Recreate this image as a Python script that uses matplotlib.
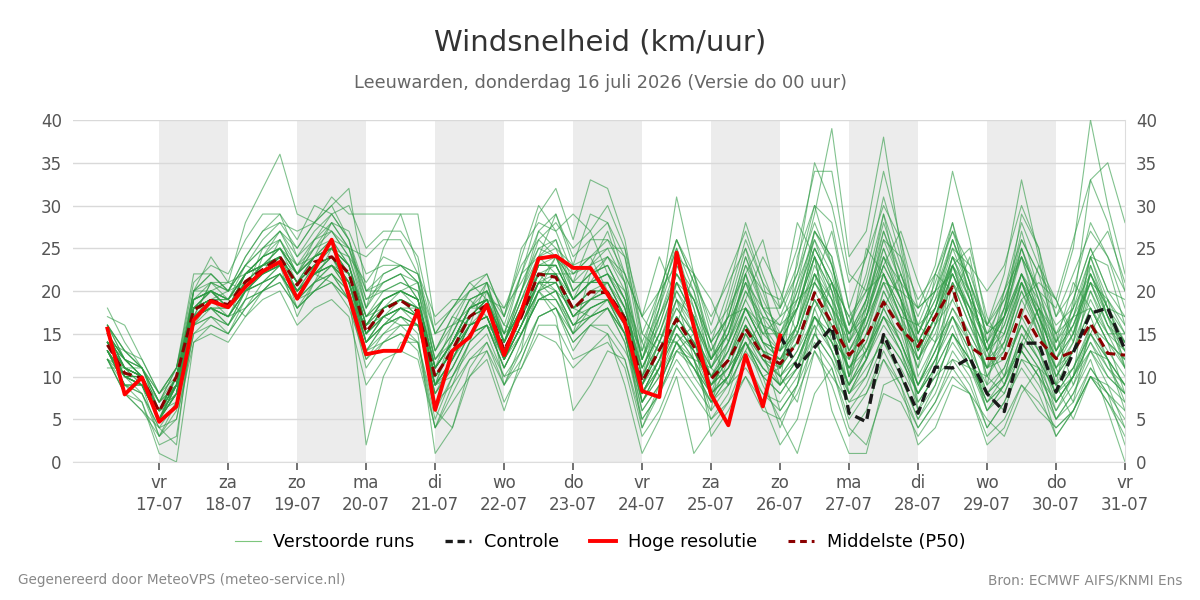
import matplotlib
matplotlib.use("Agg")
import matplotlib.pyplot as plt
from matplotlib.lines import Line2D
import numpy as np

# time axis: hours relative to vr 17-07 00:00, 6-hourly steps
hours = np.arange(-18, 337, 6)
day_hours = np.arange(0, 337, 24)
day_names = ['vr', 'za', 'zo', 'ma', 'di', 'wo', 'do', 'vr', 'za', 'zo', 'ma', 'di', 'wo', 'do', 'vr']
day_dates = ['17-07', '18-07', '19-07', '20-07', '21-07', '22-07', '23-07', '24-07',
             '25-07', '26-07', '27-07', '28-07', '29-07', '30-07', '31-07']

# high resolution run (ends 26-07 00:00)
hires = [15.6, 7.9, 9.9, 4.7, 6.5, 16.6, 18.8, 18.1, 20.5, 22.3, 23.4, 19.1, 22.5, 26.0, 19.4,
         12.6, 13.0, 13.0, 17.7, 6.1, 13.0, 14.6, 18.4, 12.5, 17.6, 23.8, 24.1, 22.7, 22.7, 19.6,
         16.3, 8.3, 7.6, 24.5, 15.8, 7.9, 4.3, 12.5, 6.5, 14.8]

# control run, visible from 26-07 00:00 onwards
control = [14.8, 11.1, 13.4, 15.8, 5.7, 4.7, 14.9, 10.3, 5.7, 11.1, 11.0, 12.2, 8.0, 5.9,
           13.9, 13.9, 8.2, 12.8, 17.4, 18.0, 13.1]

# ensemble median
p50 = [13.7, 10.4, 9.8, 5.9, 10.0, 17.8, 18.9, 18.4, 21.1, 22.5, 24.0, 20.7, 23.4, 24.0, 22.1,
       15.2, 17.8, 18.9, 17.6, 10.0, 13.1, 17.0, 18.4, 13.1, 17.0, 22.0, 21.6, 17.9, 19.9, 19.8,
       16.8, 9.4, 13.1, 16.7, 13.5, 9.7, 11.9, 15.6, 12.5, 11.5, 13.9, 19.8, 16.2, 12.5, 14.6,
       18.7, 15.6, 13.5, 17.0, 20.5, 13.5, 12.1, 12.1, 17.8, 14.3, 12.1, 12.9, 16.2, 12.7, 12.5]

# perturbed members
members = [
    [15, 12, 11, 7, 9, 19, 21, 19, 23, 25, 26, 22, 25, 27, 24, 17, 20, 21, 20, 12, 15, 19, 20, 14, 19, 24, 26, 21, 23, 25, 21, 12, 16, 22, 18, 12, 15, 21, 15, 15, 18, 25, 21, 13, 17, 23, 19, 12, 16, 22, 17, 10, 13, 21, 16, 9, 13, 20, 15, 11],
    [13, 9, 8, 4, 5, 15, 16, 15, 19, 20, 22, 18, 20, 22, 19, 11, 14, 15, 14, 6, 10, 13, 15, 10, 13, 17, 18, 14, 16, 18, 14, 5, 8, 12, 9, 6, 9, 11, 8, 7, 10, 15, 12, 6, 9, 14, 10, 5, 8, 13, 10, 4, 7, 12, 9, 5, 7, 11, 8, 6],
    [16, 13, 11, 7, 9, 20, 22, 20, 24, 27, 29, 24, 27, 29, 26, 18, 22, 23, 22, 13, 17, 20, 21, 15, 22, 27, 29, 24, 26, 28, 24, 13, 18, 26, 21, 14, 17, 24, 18, 18, 22, 30, 28, 18, 24, 34, 26, 15, 20, 28, 21, 12, 18, 27, 20, 13, 18, 33, 28, 20],
    [12, 8, 7, 2, 3, 16, 17, 16, 20, 21, 23, 19, 22, 23, 21, 13, 16, 18, 17, 8, 12, 16, 17, 12, 16, 21, 20, 16, 18, 19, 16, 7, 11, 15, 12, 8, 11, 14, 10, 4, 9, 18, 21, 14, 19, 29, 20, 10, 14, 17, 12, 6, 8, 13, 10, 3, 6, 10, 8, 5],
    [14, 11, 10, 5, 9, 20, 24, 21, 28, 32, 36, 29, 28, 30, 26, 19, 21, 22, 19, 9, 14, 18, 19, 15, 20, 25, 26, 20, 22, 23, 19, 8, 12, 19, 16, 9, 13, 18, 14, 13, 16, 23, 19, 8, 12, 20, 16, 12, 17, 24, 19, 14, 17, 22, 18, 11, 15, 22, 17, 13],
    [13, 10, 9, 5, 8, 18, 20, 18, 22, 24, 27, 25, 28, 31, 29, 29, 29, 29, 29, 16, 18, 20, 21, 14, 20, 26, 28, 25, 27, 30, 25, 14, 19, 25, 20, 11, 15, 22, 16, 13, 19, 27, 24, 16, 22, 31, 24, 14, 18, 24, 19, 13, 17, 25, 19, 10, 14, 22, 17, 14],
    [12, 10, 9, 3, 7, 17, 18, 17, 20, 22, 24, 20, 23, 24, 20, 2, 10, 14, 14, 5, 10, 14, 16, 11, 15, 19, 20, 15, 18, 19, 15, 6, 9, 14, 11, 7, 10, 15, 12, 9, 12, 17, 13, 7, 10, 15, 12, 8, 12, 16, 11, 7, 9, 13, 10, 6, 9, 13, 9, 7],
    [14, 11, 10, 6, 9, 18, 19, 18, 21, 22, 24, 21, 23, 25, 22, 14, 16, 17, 15, 1, 4, 11, 14, 9, 14, 20, 22, 17, 19, 21, 17, 8, 12, 17, 14, 9, 12, 16, 12, 11, 15, 22, 18, 10, 15, 21, 16, 9, 13, 18, 14, 8, 10, 17, 13, 7, 10, 15, 11, 9],
    [13, 9, 7, 1, 0, 14, 16, 15, 18, 20, 21, 18, 20, 22, 19, 12, 15, 16, 16, 9, 11, 15, 16, 11, 15, 19, 20, 16, 17, 18, 15, 7, 10, 15, 13, 9, 12, 16, 13, 12, 14, 19, 16, 11, 13, 17, 15, 9, 13, 18, 15, 11, 12, 16, 13, 9, 11, 16, 13, 10],
    [15, 12, 10, 6, 10, 19, 20, 18, 22, 24, 25, 22, 24, 25, 23, 16, 19, 20, 19, 11, 14, 18, 20, 16, 22, 29, 32, 26, 33, 32, 26, 15, 20, 26, 22, 12, 16, 21, 16, 15, 19, 26, 22, 14, 18, 27, 21, 13, 17, 22, 17, 11, 15, 22, 17, 12, 15, 21, 16, 12],
    [14, 10, 9, 6, 9, 17, 18, 18, 20, 22, 23, 20, 22, 24, 21, 15, 18, 19, 18, 10, 13, 16, 17, 12, 16, 20, 18, 14, 16, 15, 9, 1, 5, 10, 1, 4, 7, 10, 6, 5, 8, 13, 9, 3, 6, 12, 8, 4, 7, 11, 8, 3, 5, 9, 6, 4, 6, 10, 7, 3],
    [16, 12, 10, 7, 11, 19, 20, 19, 22, 23, 25, 22, 24, 26, 23, 16, 19, 20, 19, 11, 14, 18, 19, 13, 18, 23, 23, 19, 21, 22, 19, 10, 18, 31, 22, 15, 18, 25, 18, 14, 18, 24, 20, 12, 16, 22, 18, 14, 18, 23, 17, 13, 15, 21, 17, 12, 15, 20, 16, 13],
    [13, 9, 9, 5, 9, 17, 18, 17, 20, 21, 23, 20, 22, 23, 21, 14, 17, 18, 17, 9, 12, 16, 17, 12, 16, 21, 21, 17, 19, 19, 16, 8, 12, 16, 13, 9, 11, 14, 9, 5, 1, 8, 11, 4, 2, 8, 7, 3, 6, 10, 8, 2, 4, 9, 7, 4, 6, 11, 8, 2],
    [15, 11, 10, 6, 10, 19, 20, 19, 22, 24, 25, 21, 24, 25, 23, 17, 19, 20, 19, 11, 14, 18, 19, 14, 18, 23, 24, 19, 21, 22, 18, 11, 15, 20, 17, 12, 16, 23, 20, 19, 25, 34, 34, 22, 20, 28, 22, 16, 21, 27, 23, 14, 20, 28, 23, 17, 22, 27, 24, 18],
    [14, 11, 10, 6, 10, 18, 19, 18, 21, 23, 24, 21, 23, 24, 21, 15, 18, 19, 18, 10, 13, 17, 18, 13, 17, 22, 22, 18, 20, 21, 17, 10, 14, 19, 15, 11, 14, 20, 17, 16, 21, 29, 39, 24, 27, 38, 25, 15, 20, 26, 20, 13, 17, 24, 18, 13, 16, 22, 18, 15],
    [13, 10, 9, 5, 9, 17, 18, 18, 21, 22, 23, 20, 22, 24, 21, 15, 17, 18, 17, 9, 12, 16, 17, 12, 16, 20, 21, 17, 19, 20, 16, 9, 13, 17, 14, 10, 13, 18, 14, 13, 15, 21, 18, 14, 17, 24, 21, 18, 23, 34, 26, 16, 22, 33, 24, 13, 17, 24, 18, 14],
    [14, 10, 10, 6, 10, 18, 20, 18, 21, 23, 24, 21, 23, 24, 22, 15, 18, 19, 18, 10, 13, 17, 18, 13, 17, 22, 22, 18, 20, 20, 17, 9, 13, 18, 15, 10, 12, 17, 13, 12, 15, 21, 17, 13, 16, 21, 17, 13, 17, 22, 18, 14, 18, 24, 20, 18, 25, 40, 30, 22],
    [15, 12, 10, 6, 10, 18, 19, 19, 22, 24, 25, 22, 25, 26, 23, 16, 19, 20, 19, 11, 14, 17, 19, 14, 18, 23, 23, 19, 21, 22, 18, 11, 15, 21, 17, 12, 15, 22, 17, 14, 18, 25, 21, 15, 19, 26, 21, 14, 18, 25, 20, 13, 18, 26, 22, 19, 26, 33, 35, 28],
    [13, 9, 9, 5, 8, 17, 18, 17, 20, 21, 22, 19, 21, 22, 20, 14, 16, 18, 16, 9, 12, 15, 16, 12, 15, 19, 19, 15, 17, 18, 15, 7, 11, 15, 12, 8, 10, 14, 11, 9, 12, 17, 14, 9, 12, 16, 13, 8, 11, 15, 11, 6, 9, 14, 11, 5, 8, 12, 6, 0],
    [14, 11, 9, 5, 8, 17, 19, 18, 21, 23, 24, 21, 23, 24, 22, 15, 17, 19, 18, 10, 13, 17, 18, 13, 17, 21, 22, 18, 19, 20, 16, 8, 12, 16, 13, 9, 11, 16, 12, 10, 12, 16, 6, 1, 1, 9, 10, 5, 9, 15, 12, 7, 9, 15, 12, 8, 10, 14, 11, 8],
    [16, 13, 11, 8, 11, 20, 21, 20, 23, 25, 27, 23, 26, 28, 25, 18, 21, 22, 21, 13, 16, 20, 22, 17, 24, 30, 27, 22, 24, 26, 22, 12, 17, 23, 19, 13, 17, 24, 19, 15, 20, 27, 23, 16, 21, 29, 23, 15, 19, 26, 21, 15, 19, 25, 20, 14, 18, 24, 19, 16],
    [12, 9, 8, 4, 7, 16, 17, 16, 19, 20, 22, 19, 21, 22, 20, 13, 16, 17, 16, 8, 11, 15, 16, 11, 15, 19, 19, 16, 17, 18, 14, 6, 9, 14, 11, 7, 9, 13, 10, 8, 11, 15, 12, 8, 11, 14, 11, 7, 10, 14, 11, 8, 10, 13, 10, 7, 10, 13, 10, 8],
    [14, 10, 10, 6, 9, 18, 19, 18, 22, 23, 24, 21, 23, 24, 22, 15, 18, 19, 18, 10, 13, 17, 18, 13, 17, 22, 22, 18, 20, 20, 17, 9, 13, 17, 14, 10, 14, 19, 15, 13, 16, 22, 17, 10, 13, 18, 14, 9, 14, 19, 15, 11, 14, 20, 16, 10, 13, 17, 12, 9],
    [13, 10, 10, 6, 10, 19, 20, 19, 21, 22, 23, 20, 22, 23, 21, 14, 17, 18, 18, 11, 14, 18, 19, 14, 18, 23, 23, 19, 21, 21, 18, 10, 14, 18, 15, 11, 16, 21, 18, 16, 18, 22, 19, 15, 18, 23, 19, 15, 19, 23, 19, 16, 19, 24, 20, 16, 18, 22, 18, 17],
    [15, 11, 10, 5, 9, 18, 19, 18, 21, 22, 24, 21, 23, 25, 22, 15, 18, 19, 17, 9, 12, 16, 18, 12, 16, 20, 21, 17, 19, 20, 16, 4, 9, 14, 10, 7, 10, 14, 10, 8, 11, 18, 13, 9, 13, 19, 14, 8, 12, 17, 13, 6, 9, 15, 12, 6, 10, 16, 12, 7],
    [16, 12, 11, 7, 10, 20, 22, 20, 24, 27, 28, 25, 28, 30, 32, 20, 22, 23, 21, 12, 15, 19, 20, 15, 20, 24, 25, 20, 22, 24, 20, 11, 16, 22, 19, 13, 17, 23, 18, 14, 18, 24, 20, 15, 19, 25, 20, 13, 17, 23, 18, 12, 16, 22, 17, 12, 16, 21, 17, 14],
    [12, 8, 6, 3, 5, 14, 15, 14, 17, 19, 20, 16, 18, 19, 17, 9, 12, 13, 12, 4, 8, 12, 13, 7, 11, 15, 14, 11, 13, 14, 11, 3, 6, 11, 8, 5, 7, 12, 8, 6, 9, 14, 11, 5, 8, 13, 9, 4, 7, 12, 9, 4, 7, 11, 8, 3, 6, 10, 7, 4],
    [14, 11, 10, 6, 9, 18, 19, 18, 22, 23, 25, 22, 24, 25, 23, 17, 19, 20, 19, 11, 14, 18, 19, 14, 18, 22, 22, 19, 21, 21, 17, 9, 14, 19, 17, 12, 15, 20, 16, 11, 14, 19, 15, 11, 15, 22, 18, 14, 18, 26, 21, 15, 17, 21, 16, 11, 14, 19, 15, 13],
    [13, 10, 9, 5, 8, 17, 18, 17, 21, 22, 23, 20, 22, 23, 20, 14, 16, 17, 16, 9, 12, 16, 17, 12, 16, 21, 21, 17, 18, 19, 15, 7, 10, 14, 11, 8, 10, 15, 12, 10, 13, 19, 15, 11, 14, 20, 16, 11, 16, 21, 16, 12, 14, 20, 15, 10, 13, 18, 14, 11],
    [15, 11, 10, 5, 9, 19, 20, 18, 21, 23, 24, 21, 24, 25, 22, 16, 18, 19, 18, 10, 13, 17, 19, 13, 18, 23, 23, 19, 21, 22, 18, 10, 15, 21, 17, 11, 14, 18, 14, 12, 16, 22, 18, 12, 17, 24, 19, 13, 17, 23, 17, 13, 16, 22, 17, 13, 16, 21, 16, 14],
    [14, 10, 9, 5, 9, 18, 19, 18, 21, 22, 23, 20, 22, 23, 21, 14, 17, 18, 17, 6, 4, 10, 12, 6, 12, 17, 18, 15, 17, 18, 15, 8, 11, 16, 13, 9, 11, 16, 13, 10, 13, 17, 14, 9, 12, 17, 14, 9, 12, 17, 14, 8, 11, 16, 13, 8, 11, 15, 12, 9],
    [13, 10, 10, 6, 9, 18, 19, 17, 20, 22, 23, 20, 22, 24, 21, 15, 17, 18, 17, 10, 13, 16, 17, 12, 16, 20, 17, 6, 9, 13, 12, 4, 8, 13, 11, 8, 10, 15, 11, 9, 12, 17, 14, 9, 13, 18, 14, 9, 13, 17, 13, 9, 11, 16, 12, 8, 11, 15, 12, 9],
    [15, 12, 10, 6, 10, 19, 20, 18, 22, 24, 25, 22, 24, 25, 22, 16, 18, 20, 19, 11, 14, 17, 19, 14, 19, 24, 24, 20, 22, 23, 19, 12, 17, 22, 19, 14, 20, 28, 22, 17, 22, 28, 23, 16, 20, 27, 22, 17, 22, 27, 21, 16, 20, 26, 22, 15, 19, 25, 20, 19],
    [13, 9, 9, 5, 8, 17, 18, 17, 20, 21, 22, 19, 21, 23, 20, 13, 15, 17, 16, 8, 11, 15, 16, 11, 15, 19, 20, 16, 18, 19, 15, 8, 11, 16, 13, 8, 10, 14, 11, 9, 11, 16, 13, 8, 10, 15, 12, 8, 11, 15, 12, 7, 10, 14, 11, 7, 10, 14, 10, 8],
    [15, 11, 10, 6, 10, 18, 20, 19, 22, 23, 24, 21, 24, 25, 23, 16, 19, 20, 18, 11, 14, 18, 19, 14, 18, 22, 23, 19, 21, 21, 17, 9, 14, 20, 16, 10, 13, 18, 14, 12, 16, 24, 19, 13, 17, 25, 19, 12, 16, 24, 20, 13, 17, 25, 19, 12, 17, 23, 18, 13],
    [14, 10, 9, 6, 9, 17, 19, 18, 21, 22, 24, 20, 23, 24, 21, 15, 17, 18, 17, 10, 13, 16, 17, 13, 17, 21, 21, 18, 19, 20, 16, 9, 12, 17, 14, 10, 12, 17, 13, 11, 14, 20, 16, 11, 14, 19, 16, 12, 15, 21, 16, 11, 13, 19, 15, 11, 13, 18, 14, 12],
    [17, 16, 12, 8, 11, 21, 23, 22, 26, 29, 29, 26, 30, 29, 30, 25, 27, 27, 24, 15, 18, 21, 22, 17, 25, 28, 27, 29, 27, 22, 20, 12, 19, 25, 18, 8, 14, 22, 26, 18, 28, 24, 15, 9, 17, 23, 27, 21, 16, 19, 24, 14, 10, 17, 23, 19, 15, 24, 27, 21],
    [11, 11, 9, 5, 8, 16, 19, 20, 23, 22, 24, 18, 21, 25, 24, 21, 24, 23, 21, 7, 9, 14, 20, 16, 15, 20, 24, 19, 23, 27, 21, 7, 11, 21, 19, 14, 9, 13, 17, 10, 7, 15, 21, 17, 13, 17, 13, 8, 11, 21, 18, 10, 8, 13, 18, 15, 9, 15, 19, 11],
    [16, 13, 12, 8, 11, 18, 20, 21, 20, 25, 27, 24, 26, 27, 24, 18, 25, 29, 23, 11, 16, 17, 19, 9, 13, 24, 29, 23, 29, 28, 22, 17, 24, 19, 12, 6, 18, 22, 14, 9, 24, 30, 23, 14, 25, 22, 17, 11, 22, 28, 19, 9, 17, 29, 25, 14, 21, 18, 14, 8],
    [18, 14, 11, 6, 7, 17, 21, 20, 21, 22, 26, 23, 24, 28, 25, 20, 21, 22, 19, 12, 14, 18, 21, 18, 21, 25, 24, 21, 26, 26, 24, 15, 13, 16, 22, 19, 14, 19, 24, 20, 15, 21, 27, 18, 12, 18, 22, 16, 14, 23, 25, 17, 13, 19, 21, 19, 14, 24, 23, 16],
    [12, 8, 6, 4, 2, 18, 19, 19, 17, 20, 22, 20, 22, 21, 19, 16, 17, 16, 14, 4, 7, 10, 13, 9, 12, 17, 18, 13, 16, 16, 13, 9, 17, 21, 17, 7, 12, 18, 16, 11, 16, 27, 24, 10, 19, 24, 19, 6, 11, 23, 20, 13, 9, 14, 18, 7, 10, 23, 17, 11],
    [15, 10, 9, 5, 10, 17, 18, 16, 19, 24, 26, 22, 26, 29, 26, 20, 20, 21, 20, 13, 17, 16, 21, 14, 20, 27, 25, 23, 24, 25, 25, 17, 14, 14, 16, 12, 19, 26, 21, 13, 21, 26, 20, 10, 18, 26, 24, 19, 22, 20, 14, 11, 20, 24, 17, 9, 19, 25, 20, 17],
    [14, 12, 10, 6, 9, 18, 18, 17, 18, 20, 21, 18, 20, 21, 19, 13, 14, 16, 16, 9, 10, 14, 16, 14, 19, 22, 20, 18, 17, 19, 17, 11, 15, 14, 12, 5, 8, 14, 10, 11, 18, 24, 14, 12, 16, 22, 17, 7, 10, 12, 11, 10, 14, 21, 15, 11, 7, 16, 14, 12],
    [14, 13, 11, 7, 11, 22, 22, 20, 23, 26, 28, 27, 28, 27, 25, 24, 26, 26, 22, 15, 18, 21, 19, 18, 23, 26, 24, 21, 21, 24, 21, 12, 18, 24, 22, 16, 22, 27, 21, 18, 23, 35, 30, 21, 24, 30, 26, 18, 20, 25, 23, 20, 23, 30, 25, 17, 20, 28, 24, 20],
    [13, 10, 8, 3, 6, 15, 17, 15, 18, 21, 22, 19, 20, 21, 18, 12, 14, 15, 13, 4, 9, 12, 14, 10, 11, 16, 16, 12, 13, 15, 12, 5, 8, 13, 12, 11, 9, 16, 13, 6, 9, 17, 15, 8, 12, 17, 13, 6, 9, 15, 12, 8, 6, 12, 11, 5, 8, 13, 12, 6],
    [14, 12, 11, 8, 10, 16, 18, 16, 20, 22, 24, 22, 24, 26, 25, 19, 20, 20, 21, 15, 16, 18, 18, 15, 17, 21, 24, 22, 24, 20, 17, 13, 20, 26, 21, 17, 21, 25, 20, 14, 20, 25, 21, 17, 20, 22, 17, 16, 18, 24, 22, 16, 15, 21, 18, 14, 17, 21, 19, 15],
    [12, 11, 10, 6, 8, 17, 21, 21, 22, 23, 23, 17, 21, 23, 22, 17, 18, 19, 17, 9, 15, 19, 17, 12, 17, 21, 19, 15, 22, 23, 19, 14, 10, 13, 15, 3, 6, 10, 7, 2, 5, 13, 10, 7, 8, 12, 9, 2, 4, 9, 8, 5, 3, 8, 11, 9, 5, 10, 9, 4],
    [15, 11, 11, 6, 8, 20, 20, 19, 22, 23, 25, 23, 25, 28, 27, 22, 23, 23, 22, 17, 19, 19, 20, 17, 22, 24, 22, 22, 23, 24, 22, 17, 20, 23, 20, 14, 17, 18, 15, 17, 19, 21, 18, 15, 17, 21, 20, 18, 20, 22, 18, 15, 17, 22, 19, 15, 17, 18, 15, 15],
]

fig = plt.figure(figsize=(12, 6), dpi=100)
ax = fig.add_axes([0.0608, 0.23, 0.8767, 0.57])

# shaded alternate days
for d in range(0, 14, 2):
    ax.axvspan(day_hours[d], day_hours[d + 1], color='#ececec', zorder=0, lw=0)

for m in members:
    ax.plot(hours, m, color='#2e9a44', lw=0.8, alpha=0.6, zorder=2)
ax.plot(hours, p50, color='#8b0000', lw=2.2, dashes=(3.2, 1.8), zorder=3)
ax.plot(hours[39:], control, color='#1a1a1a', lw=2.4, dashes=(3, 1.6), zorder=4)
ax.plot(hours[:40], hires, color='#ff0000', lw=2.8, zorder=5)

ax.set_xlim(-30, 336)
ax.set_ylim(0, 40)
ax.set_yticks(np.arange(0, 41, 5))
ax.grid(axis='y', color='#d9d9d9', lw=1)
ax.set_axisbelow(True)
ax.set_xticks(day_hours)
ax.set_xticklabels([f'{n}\n{d}' for n, d in zip(day_names, day_dates)], linespacing=1.25)
ax.tick_params(axis='x', length=6, width=1.3, color='#666666', labelsize=12,
               labelcolor='#555555', pad=3)
ax.tick_params(axis='y', length=0, labelsize=12, labelcolor='#555555', pad=8,
               labelright=True, right=False)
for s in ['top', 'left']:
    ax.spines[s].set_visible(False)
ax.spines['right'].set_color('#dddddd')
ax.spines['bottom'].set_color('#dddddd')

fig.text(0.5, 0.93, 'Windsnelheid (km/uur)', ha='center', va='center', fontsize=21, color='#333333')
fig.text(0.5, 0.862, 'Leeuwarden, donderdag 16 juli 2026 (Versie do 00 uur)', ha='center',
         va='center', fontsize=12.8, color='#666666')

handles = [Line2D([], [], color='#5cb85c', lw=0.8, alpha=0.8),
           Line2D([], [], color='#1a1a1a', lw=2.4, dashes=(2.2, 1.4)),
           Line2D([], [], color='#ff0000', lw=2.8),
           Line2D([], [], color='#8b0000', lw=2.2, dashes=(2.2, 1.6))]
labels = ['Verstoorde runs', 'Controle', 'Hoge resolutie', 'Middelste (P50)']
fig.legend(handles, labels, loc='center', bbox_to_anchor=(0.5, 0.097), ncol=4, frameon=False,
           fontsize=12.8, handlelength=1.45, columnspacing=1.75, handletextpad=0.7)

fig.text(0.015, 0.033, 'Gegenereerd door MeteoVPS (meteo-service.nl)', ha='left', va='center',
         fontsize=9.8, color='#888888')
fig.text(0.985, 0.033, 'Bron: ECMWF AIFS/KNMI Ens', ha='right', va='center',
         fontsize=9.8, color='#888888')

fig.savefig('out.png', dpi=100)
